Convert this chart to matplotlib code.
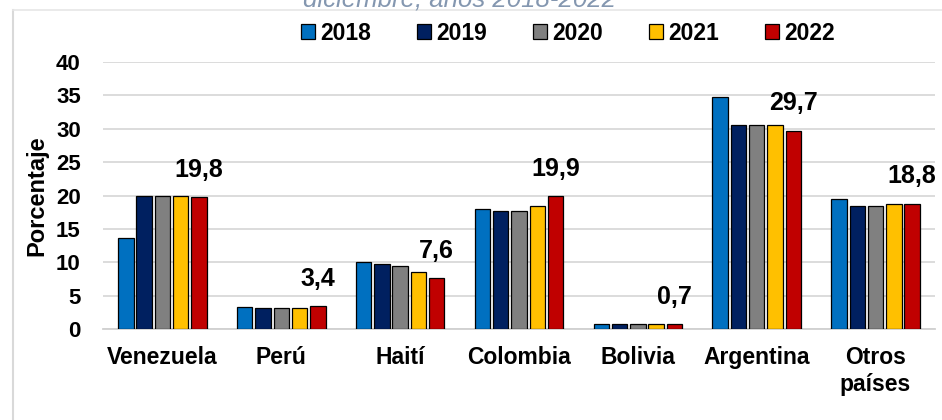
import matplotlib
matplotlib.use("Agg")
import matplotlib.pyplot as plt
import numpy as np
from matplotlib.lines import Line2D
from matplotlib.patches import Patch

categories = ["Venezuela", "Perú", "Haití", "Colombia", "Bolivia", "Argentina", "Otros\npaíses"]
years = ["2018", "2019", "2020", "2021", "2022"]
v2018 = [13.7, 3.3, 10.1, 18.0, 0.7, 34.8, 19.5]
v2019 = [19.9, 3.2, 9.7, 17.7, 0.7, 30.6, 18.4]
v2020 = [20.0, 3.2, 9.4, 17.7, 0.7, 30.5, 18.5]
v2021 = [19.9, 3.1, 8.6, 18.4, 0.7, 30.5, 18.7]
v2022 = [19.8, 3.4, 7.6, 19.9, 0.7, 29.7, 18.8]
labels_2022 = ["19,8", "3,4", "7,6", "19,9", "0,7", "29,7", "18,8"]
yticks = [0, 5, 10, 15, 20, 25, 30, 35, 40]
title_text = "diciembre, años 2018-2022"
ylabel = "Porcentaje"

series = [v2018, v2019, v2020, v2021, v2022]
colors = ["#0070C0", "#002060", "#808080", "#FFC000", "#C00000"]

plt.rcParams['font.family'] = ['Liberation Sans', 'DejaVu Sans']

fig = plt.figure(figsize=(9.42, 4.2), dpi=100)
ax = fig.add_axes([103/942, 1-329/420, (935-103)/942, (329-62)/420])

x = np.arange(len(categories))
slot = 0.154
bw = 0.13
for i, (vals, c) in enumerate(zip(series, colors)):
    xs = x + (i - 2) * slot
    ax.bar(xs, vals, width=bw, color=c, edgecolor="black", linewidth=0.9, zorder=3, label=years[i])
    if i == 4:
        for xi, v, lab in zip(xs, vals, labels_2022):
            ax.annotate(lab, (xi, v), xytext=(0, 11), textcoords="offset points",
                        ha="center", va="bottom", fontsize=18, fontweight="bold")

ax.set_xlim(-0.5, len(categories) - 0.5)
ax.set_ylim(0, 40)
ax.set_yticks(yticks)
ax.set_yticklabels([str(t) for t in yticks], fontsize=16, fontweight="bold")
ax.set_xticks(x)
ax.set_xticklabels(categories, fontsize=16.5, fontweight="bold", linespacing=1.25)
ax.tick_params(axis="x", length=0, pad=12)
ax.tick_params(axis="y", length=0, pad=16)
ax.grid(axis="y", color="#d9d9d9", linewidth=1.3, zorder=0)
for s in ["top", "right", "left"]:
    ax.spines[s].set_visible(False)
ax.spines["bottom"].set_color("#d0d0d0")
ax.spines["bottom"].set_linewidth(1.3)
ax.set_ylabel(ylabel, fontsize=17, fontweight="bold")
ax.yaxis.set_label_coords(-0.066, 0.5)

handles = [Patch(facecolor=c, edgecolor="black", linewidth=0.9) for c in colors]
fig.legend(handles, years, loc="center", bbox_to_anchor=(0.603, 1-33/420), ncol=5,
           frameon=False, prop={"weight": "bold", "size": 16.5}, handlelength=0.6,
           handleheight=0.6, handletextpad=0.25, columnspacing=2.0)

fig.text(0.488, 1-6/420, title_text, ha="center", va="baseline", fontsize=18.5,
         style="italic", color="#8497b0")

fig.add_artist(Line2D([13/942, 13/942], [0, 1-10/420], color="#d9d9d9", linewidth=1.5))
fig.add_artist(Line2D([13/942, 1], [1-10/420, 1-10/420], color="#e6e6e6", linewidth=1.2))

fig.savefig("out.png", dpi=100)
